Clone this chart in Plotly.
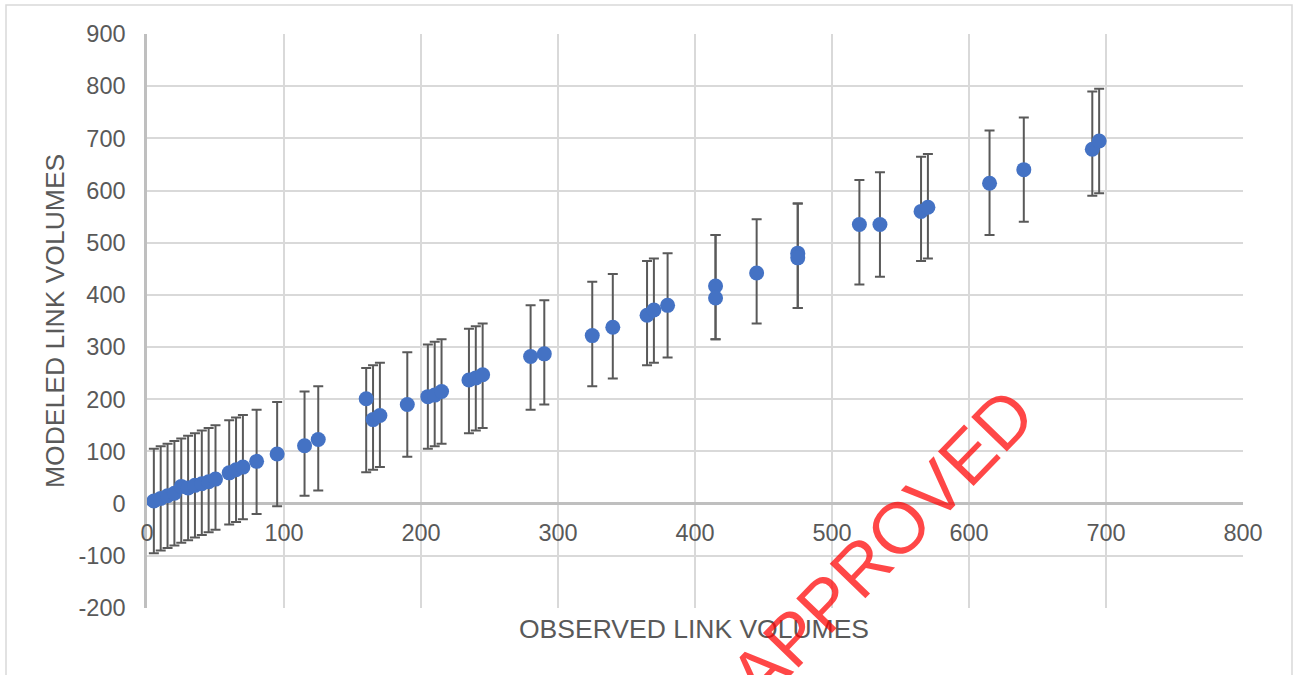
import plotly.graph_objects as go

# Data
observed = [5, 10, 15, 20, 25, 30, 35, 40, 45, 50, 60, 65, 70, 80, 95, 115, 125,
            160, 165, 170, 190, 205, 210, 215, 235, 240, 245, 280, 290, 325, 340,
            365, 370, 380, 415, 415, 445, 475, 475, 520, 535, 565, 570, 615, 640,
            690, 695]
modeled = [5, 10, 15, 20, 33, 30, 35, 38, 42, 47, 59, 65, 70, 81, 95, 111, 123,
           201, 161, 169, 190, 205, 208, 215, 237, 241, 247, 282, 287, 322, 338,
           361, 371, 380, 417, 394, 442, 480, 471, 535, 535, 560, 568, 614, 640,
           679, 695]
error_band = 100  # error bars: observed +/- 100
x_ticks = [0, 100, 200, 300, 400, 500, 600, 700, 800]
y_ticks = [-200, -100, 0, 100, 200, 300, 400, 500, 600, 700, 800, 900]
y_tick_labels = ["-200", "-100", "0", "100", "200", "300", "400", "500",
                 "600", "700", "800", "900"]

FONT = "Liberation Sans, Arial, sans-serif"
GRAY_TXT = "#595959"

fig = go.Figure()

# error bars (centred at the observed value)
fig.add_trace(go.Scatter(
    x=observed, y=observed, mode="markers",
    marker=dict(size=1, color="rgba(0,0,0,0)"),
    error_y=dict(type="constant", value=error_band, symmetric=True,
                 color="#595959", thickness=2, width=5),
    showlegend=False, hoverinfo="skip"))

# modeled points
fig.add_trace(go.Scatter(
    x=observed, y=modeled, mode="markers",
    marker=dict(size=15, color="#4472C4", line=dict(width=0)),
    showlegend=False))

L, R, T, B = 147, 51, 34, 67
W, H = 1294, 675
pw = W - L - R
ph = H - T - B

def px_x(px):
    return (px - L) / pw

def px_y(py):
    return (H - B - py) / ph

fig.update_layout(
    width=W, height=H,
    margin=dict(l=L, r=R, t=T, b=B, autoexpand=False),
    paper_bgcolor="white", plot_bgcolor="white",
    font=dict(family=FONT, color=GRAY_TXT),
    xaxis=dict(range=[0, 800], tickvals=x_ticks, showgrid=True,
               gridcolor="#D9D9D9", gridwidth=1.5, zeroline=False,
               showline=False, ticks="", anchor="free",
               position=px_y(504), automargin=False,
               tickfont=dict(size=23.5, color=GRAY_TXT, family=FONT),
               ticklabelstandoff=12),
    yaxis=dict(range=[-200, 900], tickvals=y_ticks, ticktext=y_tick_labels,
               showgrid=True,
               gridcolor="#D9D9D9", gridwidth=1.5, zeroline=True,
               zerolinecolor="#BFBFBF", zerolinewidth=2.5,
               showline=True, linecolor="#BFBFBF", linewidth=2.5,
               ticks="", automargin=False,
               tickfont=dict(size=23.5, color=GRAY_TXT, family=FONT),
               ticklabelstandoff=14),
    annotations=[
        dict(text="OBSERVED LINK VOLUMES", xref="paper", yref="paper",
             x=px_x(694), y=px_y(629), xanchor="center", yanchor="middle",
             showarrow=False, font=dict(size=26.5, color=GRAY_TXT, family=FONT)),
        dict(text="MODELED LINK VOLUMES", xref="paper", yref="paper",
             x=px_x(55), y=px_y(321), xanchor="center", yanchor="middle",
             textangle=-90, showarrow=False,
             font=dict(size=26.5, color=GRAY_TXT, family=FONT)),
        dict(text="APPROVED", xref="paper", yref="paper",
             x=px_x(882), y=px_y(545), xanchor="center", yanchor="middle",
             textangle=-46, showarrow=False,
             font=dict(size=72, color="rgba(255,0,0,0.72)", family=FONT)),
    ],
    shapes=[
        dict(type="rect", xref="paper", yref="paper",
             x0=px_x(6), x1=px_x(1292), y0=px_y(720), y1=px_y(5),
             line=dict(color="#D9D9D9", width=1.5), fillcolor="rgba(0,0,0,0)",
             layer="below"),
    ],
)

fig.write_html("out.html",
               config={"displayModeBar": False},
               post_script="document.body.style.margin='0';"
                           "document.body.style.overflow='hidden';")
